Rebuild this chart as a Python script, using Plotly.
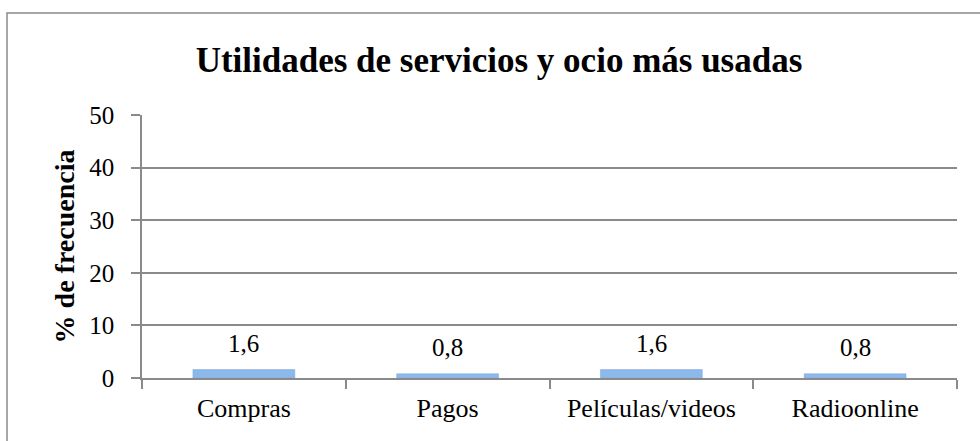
import plotly.graph_objects as go

categories = ["Compras", "Pagos", "Películas/videos", "Radioonline"]
values = [1.6, 0.8, 1.6, 0.8]
y_ticks = [0, 10, 20, 30, 40, 50]

FONT = "Liberation Serif"
L, R, T, B = 142, 23, 115, 63
W, H = 980, 441
pw = W - L - R
ph = H - T - B

fig = go.Figure(go.Bar(
    x=categories, y=values, width=0.5,
    marker=dict(color="#8cb8ea", line=dict(color="#7aa6dc", width=0.5)),
    hoverinfo="skip",
))

for c, v in zip(categories, values):
    fig.add_annotation(x=c, y=v, text=f"{v:.1f}".replace(".", ","),
                       showarrow=False, yanchor="bottom", yshift=11,
                       font=dict(family=FONT, size=25, color="#000"))

fig.add_shape(type="rect", xref="paper", yref="paper",
              x0=(7 - L) / pw, x1=(995 - L) / pw,
              y0=((H - B) - 455) / ph, y1=((H - B) - 13) / ph,
              line=dict(color="#8a8a8a", width=1.5), layer="below")

fig.update_layout(
    width=W, height=H, separators=",.",
    margin=dict(l=L, r=R, t=T, b=B),
    paper_bgcolor="white", plot_bgcolor="white",
    title=dict(text="<b>Utilidades de servicios y ocio más usadas</b>",
               x=(499 - L) / pw, xref="paper", xanchor="center",
               y=1 - 60 / H, yanchor="middle",
               font=dict(family=FONT, size=35, color="#000")),
    font=dict(family=FONT, size=25, color="#000"),
    showlegend=False,
)
fig.update_xaxes(
    type="category", tickson="boundaries", ticks="outside", ticklen=9,
    tickcolor="#8a8a8a", tickwidth=1.5,
    showline=True, linecolor="#8a8a8a", linewidth=1.5, showgrid=False,
    tickfont=dict(family=FONT, size=26), ticklabelstandoff=6,
)
fig.update_yaxes(
    range=[0, 50], tickvals=y_ticks, ticks="outside", ticklen=9,
    tickcolor="#8a8a8a", tickwidth=1.5,
    showline=True, linecolor="#8a8a8a", linewidth=1.5,
    showgrid=True, gridcolor="#8a8a8a", gridwidth=1.5, zeroline=False,
    tickfont=dict(family=FONT, size=25), ticklabelstandoff=12,
    title=dict(text="<b>% de frecuencia</b>", font=dict(family=FONT, size=28), standoff=6),
)
fig.write_html("out.html", post_script="document.body.style.margin='0';",
               config={"displayModeBar": False})
